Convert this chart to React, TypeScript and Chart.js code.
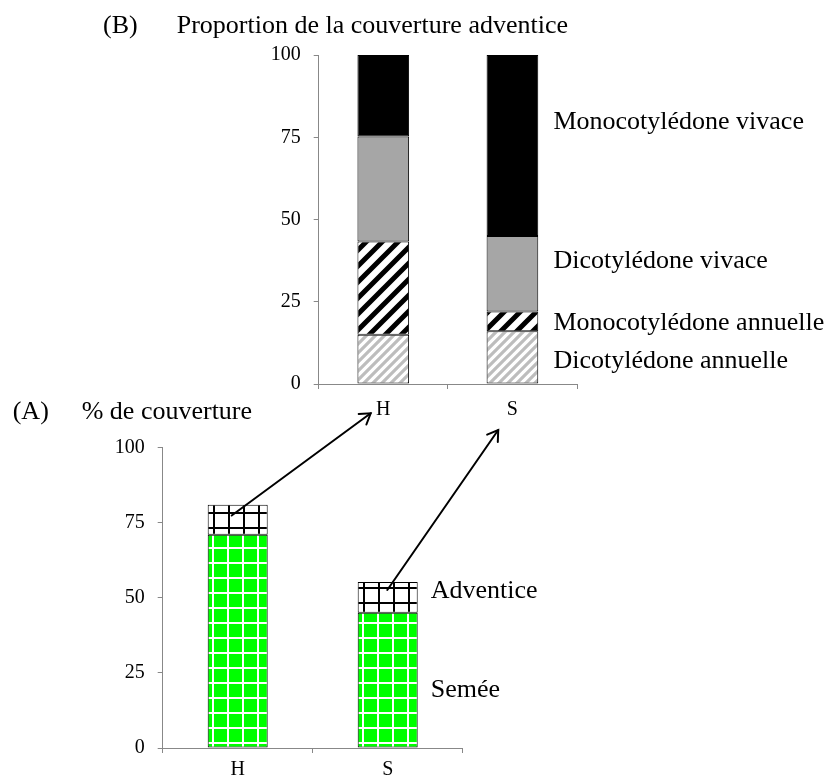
import React, { useEffect, useRef } from 'react';
import { Chart, registerables } from 'chart.js';

Chart.register(...registerables);

// ---------- data ----------
const TOP_CATEGORIES = ['H', 'S'];
const DICOT_ANNUELLE = [15, 16];
const MONO_ANNUELLE = [28.3, 6];
const DICOT_VIVACE = [31.9, 23];
const MONO_VIVACE = [24.8, 55];
const TOP_SERIES_NAMES = ['Dicotylédone annuelle', 'Monocotylédone annuelle', 'Dicotylédone vivace', 'Monocotylédone vivace'];

const BOTTOM_CATEGORIES = ['H', 'S'];
const SEMEE = [71, 45];
const ADVENTICE = [10, 10.3];
const BOTTOM_SERIES_NAMES = ['Semée', 'Adventice'];

const Y_MIN = 0;
const Y_MAX = 100;
const Y_STEP = 25;

const TITLE_B = ['(B)', 'Proportion de la couverture adventice'];
const TITLE_A = ['(A)', '% de couverture'];

// ---------- annotation placement (axis units, kept apart from data) ----------
const TOP_NAME_BASELINES = [4.8, 16.4, 35.2, 77.4];
const BOTTOM_NAME_BASELINES = [16.9, 49.8];
const ARROWS = [
  { from: 0, fromValue: 77.4, fromDx: -6, to: 0, toDx: -12.6, toDy: 29.3 },
  { from: 1, fromValue: 52.6, fromDx: -0.4, to: 1, toDx: -14.2, toDy: 46 },
];

const W = 828;
const H = 779;
const AXIS = '#888888';
const FONT = '"Liberation Serif", "Times New Roman", serif';
const TEXT_SIZE = 26;
const TICK_SIZE = 20;

function stripePattern(ctx: CanvasRenderingContext2D, period: number, width: number, color: string) {
  const c = document.createElement('canvas');
  c.width = period;
  c.height = period;
  const g = c.getContext('2d')!;
  g.fillStyle = '#ffffff';
  g.fillRect(0, 0, period, period);
  g.strokeStyle = color;
  g.lineWidth = width;
  g.lineCap = 'butt';
  g.beginPath();
  // lines x + y = k*period, extended beyond the tile so the corners are covered
  for (let k = 0; k <= 2; k++) {
    const cst = k * period;
    g.moveTo(-period, cst + period);
    g.lineTo(2 * period, cst - 2 * period);
  }
  g.stroke();
  return ctx.createPattern(c, 'repeat')!;
}

function gridPattern(ctx: CanvasRenderingContext2D, cell: number, lw: number, bg: string, line: string, ox: number, oy: number) {
  const c = document.createElement('canvas');
  c.width = cell;
  c.height = cell;
  const g = c.getContext('2d')!;
  g.fillStyle = bg;
  g.fillRect(0, 0, cell, cell);
  g.fillStyle = line;
  g.fillRect(ox, 0, lw, cell);
  g.fillRect(0, oy, cell, lw);
  return ctx.createPattern(c, 'repeat')!;
}

function drawArrow(ctx: CanvasRenderingContext2D, x1: number, y1: number, x2: number, y2: number) {
  ctx.save();
  ctx.strokeStyle = '#000';
  ctx.lineWidth = 2;
  ctx.lineCap = 'round';
  ctx.lineJoin = 'miter';
  ctx.beginPath();
  ctx.moveTo(x1, y1);
  ctx.lineTo(x2, y2);
  ctx.stroke();
  const a = Math.atan2(y2 - y1, x2 - x1);
  const L = 12;
  const s = Math.PI / 5.5;
  ctx.beginPath();
  ctx.moveTo(x2 - L * Math.cos(a - s), y2 - L * Math.sin(a - s));
  ctx.lineTo(x2, y2);
  ctx.lineTo(x2 - L * Math.cos(a + s), y2 - L * Math.sin(a + s));
  ctx.stroke();
  ctx.restore();
}

function axes(yWidth: number, xHeight: number, xPad: number) {
  return {
    x: {
      stacked: true,
      grid: { drawOnChartArea: false, tickLength: 5, color: AXIS, offset: true },
      border: { color: AXIS, width: 1 },
      ticks: { color: '#000', font: { size: TICK_SIZE, family: FONT }, padding: xPad, maxRotation: 0 },
      afterFit: (s: any) => { s.height = xHeight; },
    },
    y: {
      stacked: true,
      min: Y_MIN,
      max: Y_MAX,
      grid: { drawOnChartArea: false, tickLength: 5, color: AXIS },
      border: { color: AXIS, width: 1 },
      ticks: { stepSize: Y_STEP, color: '#000', font: { size: TICK_SIZE, family: FONT }, padding: 13 },
      afterFit: (s: any) => { s.width = yWidth; },
    },
  };
}

export default function App() {
  const bottomRef = useRef<HTMLCanvasElement>(null);
  const topRef = useRef<HTMLCanvasElement>(null);

  useEffect(() => {
    Chart.defaults.font.family = FONT;
    const bctx = bottomRef.current!.getContext('2d')!;
    const tctx = topRef.current!.getContext('2d')!;

    const bottomText = {
      id: 'bottomText',
      afterDraw(chart: any) {
        const ctx = chart.ctx;
        ctx.save();
        ctx.fillStyle = '#000';
        ctx.font = `${TEXT_SIZE}px ${FONT}`;
        ctx.textBaseline = 'alphabetic';
        ctx.textAlign = 'left';
        ctx.fillText(TITLE_A[0], 12.7, 418.5);
        ctx.fillText(TITLE_A[1], 81.7, 418.5);
        const xs = chart.scales.x;
        const ys = chart.scales.y;
        const lx = xs.getPixelForValue(BOTTOM_CATEGORIES.length - 1) + 43;
        BOTTOM_SERIES_NAMES.forEach((n, i) => ctx.fillText(n, lx, ys.getPixelForValue(BOTTOM_NAME_BASELINES[i])));
        ctx.restore();
      },
    };

    const bottom = new Chart(bctx, {
      type: 'bar',
      data: {
        labels: BOTTOM_CATEGORIES,
        datasets: [
          {
            label: BOTTOM_SERIES_NAMES[0],
            data: SEMEE,
            backgroundColor: gridPattern(bctx, 15, 2, '#00ff00', '#ffffff', 2, 7),
            borderColor: '#000', borderWidth: 1, borderSkipped: false,
          },
          {
            label: BOTTOM_SERIES_NAMES[1],
            data: ADVENTICE,
            backgroundColor: gridPattern(bctx, 15, 2, '#ffffff', '#000000', 3, 2),
            borderColor: '#000', borderWidth: 1, borderSkipped: false,
          },
        ],
      },
      options: {
        responsive: false,
        animation: false,
        events: [],
        datasets: { bar: { categoryPercentage: 1, barPercentage: 0.4 } },
        layout: { padding: { left: 92.7, right: 365.3, top: 447.7, bottom: 0 } },
        plugins: { legend: { display: false }, tooltip: { enabled: false }, title: { display: false } },
        scales: axes(70, 31, 5) as any,
      },
      plugins: [bottomText],
    });

    const topText = {
      id: 'topText',
      afterDraw(chart: any) {
        const ctx = chart.ctx;
        ctx.save();
        ctx.fillStyle = '#000';
        ctx.font = `${TEXT_SIZE}px ${FONT}`;
        ctx.textBaseline = 'alphabetic';
        ctx.textAlign = 'left';
        ctx.fillText(TITLE_B[0], 103, 32.7);
        ctx.fillText(TITLE_B[1], 176.7, 32.7);
        const xs = chart.scales.x;
        const ys = chart.scales.y;
        const lx = xs.getPixelForValue(TOP_CATEGORIES.length - 1) + 41;
        TOP_SERIES_NAMES.forEach((n, i) => ctx.fillText(n, lx, ys.getPixelForValue(TOP_NAME_BASELINES[i])));
        ctx.restore();
        const bx = bottom.scales.x;
        const by = bottom.scales.y;
        ARROWS.forEach((a) => {
          const x1 = bx.getPixelForValue(a.from) + a.fromDx;
          const y1 = by.getPixelForValue(a.fromValue);
          const x2 = xs.getPixelForValue(a.to) + a.toDx;
          const y2 = chart.chartArea.bottom + a.toDy;
          drawArrow(ctx, x1, y1, x2, y2);
        });
      },
    };

    const top = new Chart(tctx, {
      type: 'bar',
      data: {
        labels: TOP_CATEGORIES,
        datasets: [
          {
            label: TOP_SERIES_NAMES[0],
            data: DICOT_ANNUELLE,
            backgroundColor: stripePattern(tctx, 9, 3.2, '#bdbdbd'),
            borderColor: '#000', borderWidth: 1, borderSkipped: false,
          },
          {
            label: TOP_SERIES_NAMES[1],
            data: MONO_ANNUELLE,
            backgroundColor: stripePattern(tctx, 16, 5, '#000000'),
            borderColor: '#000', borderWidth: 1, borderSkipped: false,
          },
          {
            label: TOP_SERIES_NAMES[2],
            data: DICOT_VIVACE,
            backgroundColor: '#a6a6a6',
            borderColor: '#000', borderWidth: 1, borderSkipped: false,
          },
          {
            label: TOP_SERIES_NAMES[3],
            data: MONO_VIVACE,
            backgroundColor: '#000000',
            borderColor: '#000', borderWidth: 1, borderSkipped: false,
          },
        ],
      },
      options: {
        responsive: false,
        animation: false,
        events: [],
        datasets: { bar: { categoryPercentage: 1, barPercentage: 0.4 } },
        layout: { padding: { left: 248.7, right: 251, top: 55, bottom: 355 } },
        plugins: { legend: { display: false }, tooltip: { enabled: false }, title: { display: false } },
        scales: axes(70, 40, 9) as any,
      },
      plugins: [topText],
    });

    return () => {
      top.destroy();
      bottom.destroy();
    };
  }, []);

  const canvasStyle: React.CSSProperties = { position: 'absolute', left: 0, top: 0, width: W, height: H };
  return (
    <div style={{ position: 'fixed', left: 0, top: 0, width: W, height: H, background: '#fff' }}>
      <canvas ref={bottomRef} width={W} height={H} style={canvasStyle} />
      <canvas ref={topRef} width={W} height={H} style={canvasStyle} />
    </div>
  );
}
